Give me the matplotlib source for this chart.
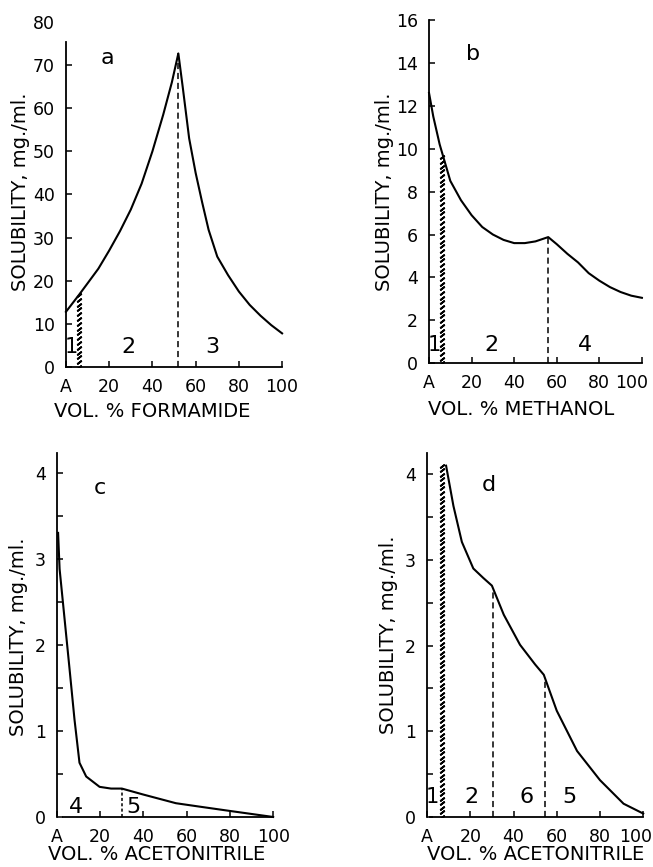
import numpy as np
import matplotlib
matplotlib.use("Agg")
from matplotlib import pyplot as plt
from matplotlib.transforms import ScaledTranslation

plt.rcParams['font.family'] = ['DejaVu Sans']

# solubility curves (x = vol. %, y = mg./ml.)
a_x = [0, 6, 10, 15, 20, 25, 30, 35, 40, 45, 49, 52, 54, 57, 60, 63, 66, 70, 75, 80, 85, 90, 95, 100]
a_y = [12.8, 16.7, 19.4, 22.8, 27.0, 31.5, 36.5, 42.5, 50.0, 58.5, 66.0, 72.7,
       65.0, 53.0, 45.0, 38.2, 31.8, 25.6, 21.3, 17.5, 14.4, 11.9, 9.7, 7.8]

b_x = [0, 2, 5, 10, 15, 20, 25, 30, 35, 40, 45, 50, 56, 60, 65, 70, 75, 80, 85, 90, 95, 100]
b_y = [12.6, 11.5, 10.2, 8.5, 7.6, 6.9, 6.35, 6.0, 5.75, 5.6, 5.6, 5.68, 5.88,
       5.55, 5.1, 4.7, 4.2, 3.85, 3.55, 3.32, 3.15, 3.05]

c_x = [0.5, 1.2, 3.5, 5.8, 8.1, 10.4, 13.5, 19.7, 25, 30, 40, 55, 66, 80, 100]
c_y = [3.3, 2.88, 2.3, 1.72, 1.13, 0.63, 0.47, 0.35, 0.33, 0.33, 0.26, 0.16, 0.12, 0.07, 0.0]

d_x = [8.8, 12.2, 16.1, 21.4, 26, 30, 35.5, 43, 50, 54, 60, 69.4, 80, 90.9, 100]
d_y = [4.1, 3.63, 3.21, 2.9, 2.79, 2.7, 2.36, 2.01, 1.78, 1.66, 1.24, 0.77, 0.43, 0.155, 0.04]

# phase boundaries: dashed (x, top) and hatched (x, top)
a_dash = [(52, 72.7)]
b_dash = [(56, 5.85)]
c_dash = [(30, 0.33)]
d_dash = [(30.5, 2.65), (54.5, 1.62)]
a_hatch = (6, 16.7)
b_hatch = (6, 9.6)
d_hatch = (6.8, 4.1)

x_ticks = [0, 20, 40, 60, 80, 100]
x_ticklabels = ['A', '20', '40', '60', '80', '100']

fig = plt.figure(figsize=(6.53, 8.67), dpi=100)


def setup(ax, ylim, yticks, yminor, xlabel, xlab_xy, ylab_xy, shift_last=0):
    ax.set_xlim(0, 100)
    ax.set_ylim(*ylim)
    for s in ['top', 'right']:
        ax.spines[s].set_visible(False)
    for s in ['left', 'bottom']:
        ax.spines[s].set_linewidth(1.3)
    ax.set_xticks(x_ticks)
    ax.set_xticklabels(x_ticklabels)
    ax.set_yticks(yticks)
    ax.set_yticklabels([('%g' % t) for t in yticks])
    if yminor:
        ax.set_yticks(yminor, minor=True)
    ax.tick_params(direction='in', length=4, width=1.1, labelsize=12.5, pad=8)
    ax.tick_params(axis='y', which='minor', direction='in', length=4, width=1.1)
    ax.set_xlabel(xlabel, fontsize=14)
    ax.xaxis.set_label_coords(*xlab_xy)
    ax.set_ylabel('SOLUBILITY, mg./ml.', fontsize=14)
    ax.yaxis.set_label_coords(*ylab_xy)
    if shift_last:
        lab = ax.get_xticklabels()[-1]
        lab.set_transform(lab.get_transform() + ScaledTranslation(shift_last / 100, 0, fig.dpi_scale_trans))


def curve(ax, x, y):
    ax.plot(x, y, color='k', lw=1.5, clip_on=False)


def dashes(ax, lines, style=(0, (4, 2.5))):
    for x, top in lines:
        ax.plot([x, x], [0, top], color='k', lw=1.1, linestyle=style)


def hatch(ax, x, top):
    # column of short slanted strokes, about 4.5 px apart
    fig.canvas.draw()
    p0 = ax.transData.transform((x, 0))[1]
    p1 = ax.transData.transform((x, top))[1]
    n = int((p1 - p0) / 4.5)
    ys = np.linspace(0, top, n)
    ax.plot(np.full(n, x), ys, ls='none', marker=(2, 2, -53), ms=4, mew=1.3, color='k')


# ---- a
ax = fig.add_axes([0.101, 0.5767, 0.331, 0.398])
setup(ax, (0, 80), list(range(0, 90, 10)), None, 'VOL. % FORMAMIDE',
      (0.40, -0.10), (-0.167, 0.507))
ax.spines['left'].set_bounds(0, 75.4)
ax.yaxis.get_major_ticks()[-1].tick1line.set_visible(False)
curve(ax, a_x, a_y)
dashes(ax, a_dash)
hatch(ax, *a_hatch)
ax.text(19.4, 71.6, 'a', fontsize=16, ha='center', va='center')
ax.text(2.4, 4.7, '1', fontsize=15, ha='center', va='center')
ax.text(28.7, 4.7, '2', fontsize=16, ha='center', va='center')
ax.text(67.6, 4.7, '3', fontsize=16, ha='center', va='center')

# ---- b
ax = fig.add_axes([0.657, 0.581, 0.326, 0.396])
setup(ax, (0, 16), list(range(0, 18, 2)), None, 'VOL. % METHANOL',
      (0.432, -0.108), (-0.164, 0.5), shift_last=-10)
curve(ax, b_x, b_y)
dashes(ax, b_dash)
hatch(ax, *b_hatch)
ax.text(20.8, 14.4, 'b', fontsize=16, ha='center', va='center')
ax.text(2.4, 0.85, '1', fontsize=15, ha='center', va='center')
ax.text(29.1, 0.85, '2', fontsize=16, ha='center', va='center')
ax.text(73.2, 0.85, '4', fontsize=16, ha='center', va='center')

# ---- c
ax = fig.add_axes([0.0873, 0.0577, 0.331, 0.42])
setup(ax, (0, 4.23), [0, 1, 2, 3, 4], [0.5, 1.5, 2.5, 3.5], 'VOL. % ACETONITRILE',
      (0.463, -0.078), (-0.134, 0.495))
ax.spines['bottom'].set_bounds(2.9, 100)
curve(ax, c_x, c_y)
dashes(ax, c_dash, style=(0, (2, 1.5)))
ax.text(19.7, 3.82, 'c', fontsize=16, ha='center', va='center')
ax.text(9.0, 0.12, '4', fontsize=16, ha='center', va='center')
ax.text(35.5, 0.12, '5', fontsize=16, ha='center', va='center')

# ---- d
ax = fig.add_axes([0.654, 0.0577, 0.331, 0.42])
setup(ax, (0, 4.25), [0, 1, 2, 3, 4], [0.5, 1.5, 2.5, 3.5], 'VOL. % ACETONITRILE',
      (0.5, -0.078), (-0.134, 0.5), shift_last=-8)
ax.spines['bottom'].set_bounds(1.4, 100)
curve(ax, d_x, d_y)
dashes(ax, d_dash)
hatch(ax, *d_hatch)
ax.text(28.4, 3.87, 'd', fontsize=16, ha='center', va='center')
ax.text(2.6, 0.23, '1', fontsize=15, ha='center', va='center')
ax.text(20.7, 0.23, '2', fontsize=16, ha='center', va='center')
ax.text(46.0, 0.23, '6', fontsize=16, ha='center', va='center')
ax.text(66.0, 0.23, '5', fontsize=16, ha='center', va='center')

fig.savefig('out.png', dpi=100)
